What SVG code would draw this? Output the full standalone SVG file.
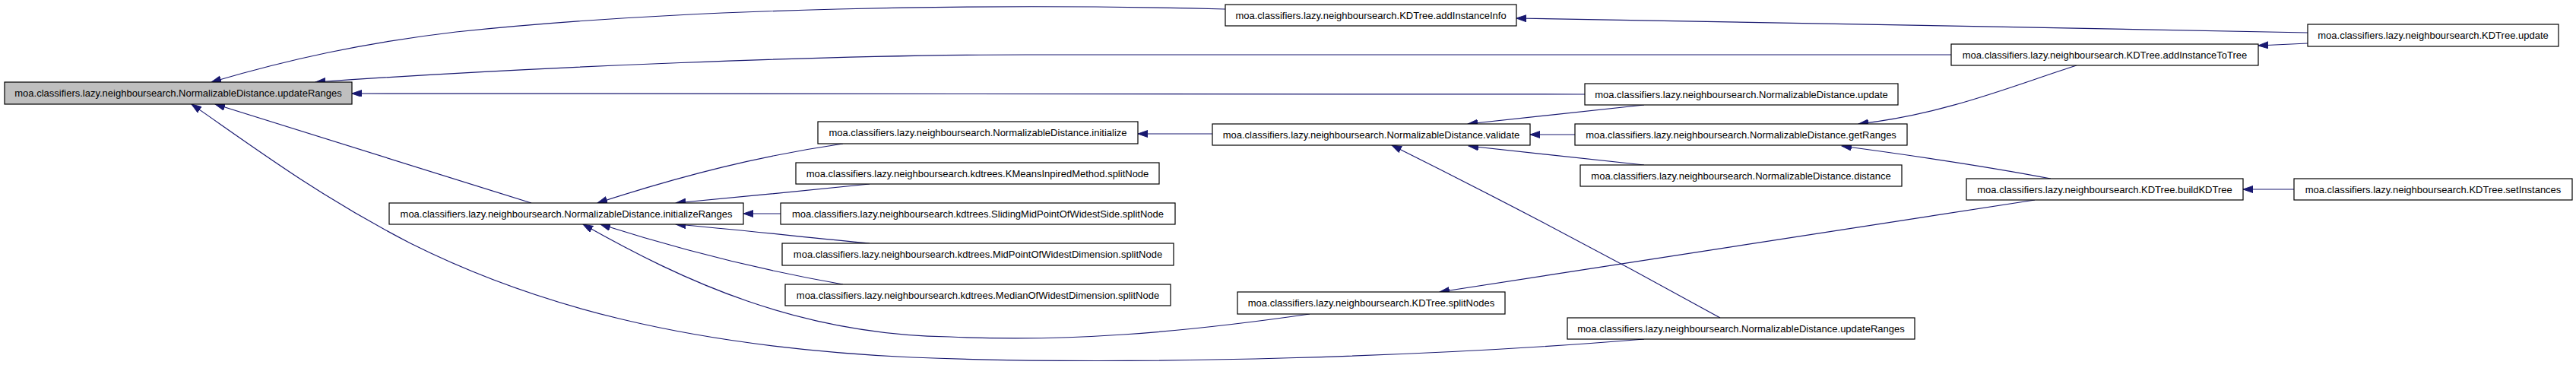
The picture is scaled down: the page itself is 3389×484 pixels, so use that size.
<svg xmlns="http://www.w3.org/2000/svg" width="3389" height="484" viewBox="0 0 3389 484">
<style>
.node rect{fill:#ffffff;stroke:#000000;stroke-width:1.2}
.node.focus rect{fill:#bfbfbf}
.node text{font-family:"Liberation Sans",Arial,Helvetica,sans-serif;font-size:13px;fill:#000000;text-anchor:middle}
.edges path{fill:none;stroke:#191970;stroke-width:1.2;marker-end:url(#arr)}
</style>
<defs>
<marker id="arr" markerUnits="userSpaceOnUse" markerWidth="14" markerHeight="10" refX="13" refY="4.5" orient="auto">
<path d="M0,0 L13,4.5 L0,9 Z" fill="#191970" stroke="#191970" stroke-width="1"/>
</marker>
</defs>
<rect width="3389" height="484" fill="#ffffff"/>
<g class="edges" id="edges">
<path d="M1612,12 C1300,4 900,10 600,42 C480,56 380,78 278,108"/>
<path d="M2567,72 L1350,72 C1100,72 700,88 415,108"/>
<path d="M2085,124 L463,123"/>
<path d="M699,267 L283,137"/>
<path d="M2163,446 C1900,468 1500,482 1200,470 C900,456 700,400 540,320 C420,258 340,198 252,137"/>
<path d="M1109,189 C1000,205 900,230 786,267"/>
<path d="M1144,242 C1050,252 980,258 889,267"/>
<path d="M1027,281 L978,281"/>
<path d="M1144,320 C1050,311 980,303 889,295"/>
<path d="M1109,374 C1000,355 900,330 790,295"/>
<path d="M1723,413 C1550,438 1400,450 1250,443 C1050,440 900,370 767,295"/>
<path d="M1595,176 L1497,176"/>
<path d="M2163,138 L1931,163"/>
<path d="M2072,177 L2013,177"/>
<path d="M2163,217 L1932,192"/>
<path d="M2263,418 Q2050,300 1831,191"/>
<path d="M2677,263 L1894,384"/>
<path d="M2732,86 C2650,112 2560,150 2445,163"/>
<path d="M2698,235 C2620,220 2520,205 2423,192"/>
<path d="M3036,43 C2700,37 2300,28 1995,24"/>
<path d="M3036,57 L2971,60"/>
<path d="M3018,249 L2951,249"/>
</g>
<g class="node focus" id="n_main"><rect x="6" y="108" width="457" height="29"/><text x="234.5" y="126.5">moa.classifiers.lazy.neighboursearch.NormalizableDistance.updateRanges</text></g>
<g class="node" id="n_initializeRanges"><rect x="512" y="267" width="466" height="28"/><text x="745" y="285.5">moa.classifiers.lazy.neighboursearch.NormalizableDistance.initializeRanges</text></g>
<g class="node" id="n_initialize"><rect x="1076" y="160" width="421" height="29"/><text x="1286.5" y="179">moa.classifiers.lazy.neighboursearch.NormalizableDistance.initialize</text></g>
<g class="node" id="n_kmeans"><rect x="1047" y="214" width="478" height="28"/><text x="1286" y="232.5">moa.classifiers.lazy.neighboursearch.kdtrees.KMeansInpiredMethod.splitNode</text></g>
<g class="node" id="n_sliding"><rect x="1027" y="267" width="519" height="28"/><text x="1286.5" y="285.5">moa.classifiers.lazy.neighboursearch.kdtrees.SlidingMidPointOfWidestSide.splitNode</text></g>
<g class="node" id="n_midpoint"><rect x="1029" y="320" width="515" height="29"/><text x="1286.5" y="339">moa.classifiers.lazy.neighboursearch.kdtrees.MidPointOfWidestDimension.splitNode</text></g>
<g class="node" id="n_median"><rect x="1033" y="374" width="507" height="28"/><text x="1286.5" y="392.5">moa.classifiers.lazy.neighboursearch.kdtrees.MedianOfWidestDimension.splitNode</text></g>
<g class="node" id="n_addInstanceInfo"><rect x="1612" y="6" width="383" height="28"/><text x="1803.5" y="24.5">moa.classifiers.lazy.neighboursearch.KDTree.addInstanceInfo</text></g>
<g class="node" id="n_validate"><rect x="1595" y="163" width="418" height="28"/><text x="1804" y="181.5">moa.classifiers.lazy.neighboursearch.NormalizableDistance.validate</text></g>
<g class="node" id="n_splitNodes"><rect x="1628" y="384" width="352" height="29"/><text x="1804" y="403">moa.classifiers.lazy.neighboursearch.KDTree.splitNodes</text></g>
<g class="node" id="n_ndupdate"><rect x="2085" y="110" width="412" height="28"/><text x="2291" y="128.5">moa.classifiers.lazy.neighboursearch.NormalizableDistance.update</text></g>
<g class="node" id="n_getRanges"><rect x="2072" y="163" width="437" height="28"/><text x="2290.5" y="181.5">moa.classifiers.lazy.neighboursearch.NormalizableDistance.getRanges</text></g>
<g class="node" id="n_distance"><rect x="2079" y="217" width="423" height="28"/><text x="2290.5" y="235.5">moa.classifiers.lazy.neighboursearch.NormalizableDistance.distance</text></g>
<g class="node" id="n_updateRanges2"><rect x="2062" y="418" width="457" height="28"/><text x="2290.5" y="436.5">moa.classifiers.lazy.neighboursearch.NormalizableDistance.updateRanges</text></g>
<g class="node" id="n_addInstanceToTree"><rect x="2567" y="58" width="404" height="28"/><text x="2769" y="76.5">moa.classifiers.lazy.neighboursearch.KDTree.addInstanceToTree</text></g>
<g class="node" id="n_buildKDTree"><rect x="2587" y="235" width="364" height="28"/><text x="2769" y="253.5">moa.classifiers.lazy.neighboursearch.KDTree.buildKDTree</text></g>
<g class="node" id="n_kdupdate"><rect x="3036" y="32" width="330" height="29"/><text x="3201" y="51">moa.classifiers.lazy.neighboursearch.KDTree.update</text></g>
<g class="node" id="n_setInstances"><rect x="3018" y="235" width="366" height="28"/><text x="3201" y="253.5">moa.classifiers.lazy.neighboursearch.KDTree.setInstances</text></g>
</svg>
